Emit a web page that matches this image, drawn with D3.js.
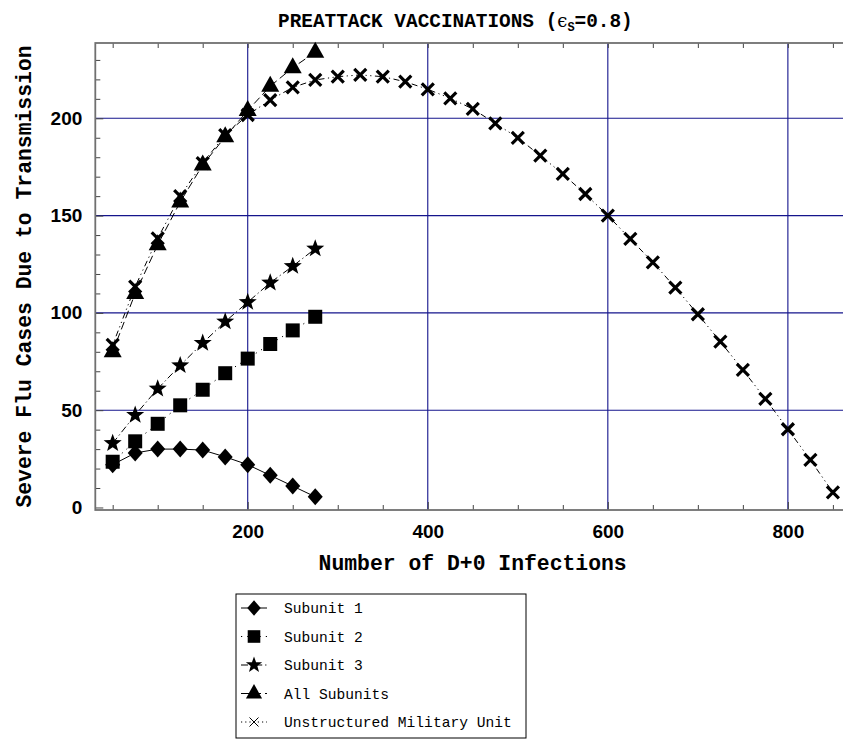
<!DOCTYPE html>
<html>
<head>
<meta charset="utf-8">
<script src="https://cdn.jsdelivr.net/npm/d3@7"></script>
<style>
  body { margin: 0; background: #fff; }
  svg { display: block; }
</style>
</head>
<body>
<svg id="chart" width="843" height="743"></svg>
<script>
// ---- data ----
const subunitInfections = [50, 75, 100, 125, 150, 175, 200, 225, 250, 275];
const subunit1 = [22, 28, 30, 30, 29.5, 26, 22, 16.5, 11, 5.5];
const subunit2 = [23.5, 34, 43, 52.5, 60.5, 69, 76.5, 84, 91, 98];
const subunit3 = [33, 47.5, 61, 73, 84.5, 95.5, 105.5, 115.5, 124, 133];
const allSubunits = [80, 110, 135, 157, 176, 190.5, 204, 216.5, 226, 234];

const unitInfections = [50, 75, 100, 125, 150, 175, 200, 225, 250, 275, 300,
  325, 350, 375, 400, 425, 450, 475, 500, 525, 550, 575, 600, 625, 650, 675,
  700, 725, 750, 775, 800, 825, 850];
const unstructuredUnit = [83.5, 113.5, 138.3, 160, 177, 191.4, 201.7, 209.4,
  215.9, 219.7, 221.4, 222.3, 221.4, 218.8, 214.9, 210.3, 204.8, 197.4, 190,
  180.8, 171.4, 161.1, 150, 138, 126, 113, 99.3, 85.2, 70.7, 55.8, 40.2, 24.4, 7.8];

const seriesNames = ["Subunit 1", "Subunit 2", "Subunit 3", "All Subunits",
  "Unstructured Military Unit"];

const xTickLabels = [200, 400, 600, 800];
const yTickLabels = [0, 50, 100, 150, 200];

// ---- layout ----
const svg = d3.select("#chart");
const frame = { left: 95.3, right: 850, top: 43, bottom: 510 };

const x = d3.scaleLinear().domain([30.7, 869]).range([frame.left, frame.right]);
const y = d3.scaleLinear().domain([-1.3, 238.7]).range([frame.bottom, frame.top]);

svg.append("rect").attr("width", 843).attr("height", 743).attr("fill", "#fff");

// grid lines
const gridColor = "#14148c";
svg.append("g").selectAll("line").data(xTickLabels).join("line")
  .attr("x1", d => x(d)).attr("x2", d => x(d))
  .attr("y1", frame.top).attr("y2", frame.bottom)
  .attr("stroke", gridColor).attr("stroke-width", 1.1);
svg.append("g").selectAll("line").data(yTickLabels.filter(v => v > 0)).join("line")
  .attr("y1", d => y(d)).attr("y2", d => y(d))
  .attr("x1", frame.left).attr("x2", frame.right)
  .attr("stroke", gridColor).attr("stroke-width", 1.1);

// inward ticks on all sides of the frame
const xMinor = d3.range(50, 851, 50).filter(v => v % 200 !== 0);
const yMinor = d3.range(10, 231, 10).filter(v => v % 50 !== 0);

function styleAxis(g) {
  g.select(".domain").remove();
  g.selectAll(".tick line").attr("stroke", "#444").attr("stroke-width", 1);
}

svg.append("g").attr("transform", `translate(0,${frame.bottom})`)
  .call(d3.axisBottom(x).tickValues(xMinor).tickSize(-5).tickFormat(""))
  .call(styleAxis);
svg.append("g").attr("transform", `translate(0,${frame.bottom})`)
  .call(d3.axisBottom(x).tickValues(xTickLabels).tickSize(-8).tickPadding(15)
    .tickFormat(d3.format("d")))
  .call(styleAxis)
  .call(g => g.selectAll("text").attr("fill", "#000")
    .style("font", "bold 19px 'Liberation Sans', Arial, sans-serif"));
svg.append("g").attr("transform", `translate(0,${frame.top})`)
  .call(d3.axisTop(x).tickValues(xMinor.concat(xTickLabels)).tickSize(-5).tickFormat(""))
  .call(styleAxis);

svg.append("g").attr("transform", `translate(${frame.left},0)`)
  .call(d3.axisLeft(y).tickValues(yMinor).tickSize(-5).tickFormat(""))
  .call(styleAxis);
svg.append("g").attr("transform", `translate(${frame.left},0)`)
  .call(d3.axisLeft(y).tickValues(yTickLabels).tickSize(-8).tickPadding(13)
    .tickFormat(d3.format("d")))
  .call(styleAxis)
  .call(g => g.selectAll("text").attr("fill", "#000")
    .style("font", "bold 19px 'Liberation Sans', Arial, sans-serif"));

// frame
svg.append("rect")
  .attr("x", frame.left).attr("y", frame.top)
  .attr("width", frame.right - frame.left).attr("height", frame.bottom - frame.top)
  .attr("fill", "none").attr("stroke", "#707070").attr("stroke-width", 1.8);

// ---- marker shapes ----
function starPath(R, r) {
  const pts = [];
  for (let i = 0; i < 10; i++) {
    const a = -Math.PI / 2 + i * Math.PI / 5;
    const rad = i % 2 === 0 ? R : r;
    pts.push([rad * Math.cos(a), rad * Math.sin(a)]);
  }
  return "M" + pts.map(p => p.join(",")).join("L") + "Z";
}
const markers = {
  diamond: s => `M0,${-8.5 * s}L${7.5 * s},0L0,${8.5 * s}L${-7.5 * s},0Z`,
  square: s => `M${-7 * s},${-7 * s}h${14 * s}v${14 * s}h${-14 * s}Z`,
  star: s => starPath(9.5 * s, 3.9 * s),
  triangle: s => `M0,${-10.5 * s}L${9 * s},${5.5 * s}L${-9 * s},${5.5 * s}Z`,
  cross: s => `M${-6 * s},${-6 * s}L${6 * s},${6 * s}M${6 * s},${-6 * s}L${-6 * s},${6 * s}`
};

const series = [
  { name: seriesNames[0], xs: subunitInfections, ys: subunit1, marker: "diamond", dash: null },
  { name: seriesNames[1], xs: subunitInfections, ys: subunit2, marker: "square", dash: "1.2,5" },
  { name: seriesNames[2], xs: subunitInfections, ys: subunit3, marker: "star", dash: "7,3,1.2,3" },
  { name: seriesNames[3], xs: subunitInfections, ys: allSubunits, marker: "triangle", dash: "8,4" },
  { name: seriesNames[4], xs: unitInfections, ys: unstructuredUnit, marker: "cross", dash: "1.2,3.5,1.2,3.5,6,3.5" }
];

const line = d3.line().x(d => x(d[0])).y(d => y(d[1]));

const plotG = svg.append("g");
series.forEach(s => {
  const pts = s.xs.map((v, i) => [v, s.ys[i]]);
  plotG.append("path").datum(pts)
    .attr("d", line)
    .attr("fill", "none").attr("stroke", "#000").attr("stroke-width", 1)
    .attr("stroke-dasharray", s.dash);
});
series.forEach(s => {
  const pts = s.xs.map((v, i) => [v, s.ys[i]]);
  plotG.append("g").selectAll("path").data(pts).join("path")
    .attr("transform", d => `translate(${x(d[0])},${y(d[1])})`)
    .attr("d", markers[s.marker](1))
    .attr("fill", s.marker === "cross" ? "none" : "#000")
    .attr("stroke", "#000")
    .attr("stroke-width", s.marker === "cross" ? 3.2 : 0);
});

// ---- titles ----
const midX = (frame.left + frame.right) / 2;
const title = svg.append("text")
  .attr("x", 278).attr("y", 27).attr("text-anchor", "start")
  .style("font", "bold 19.4px 'Liberation Mono', 'Courier New', monospace");
title.append("tspan").text("PREATTACK VACCINATIONS (");
title.append("tspan").text("\u03F5").style("font", "18px 'DejaVu Serif', serif");
title.append("tspan").text("S").attr("dy", 4)
  .style("font", "bold 12px 'Liberation Mono', monospace");
title.append("tspan").text("=0.8)").attr("dy", -4);

svg.append("text")
  .attr("x", midX).attr("y", 570).attr("text-anchor", "middle")
  .style("font", "bold 21.4px 'Liberation Mono', 'Courier New', monospace")
  .text("Number of D+0 Infections");

svg.append("text")
  .attr("transform", `translate(31,${(frame.top + frame.bottom) / 2}) rotate(-90)`)
  .attr("text-anchor", "middle")
  .style("font", "bold 21.4px 'Liberation Mono', 'Courier New', monospace")
  .text("Severe Flu Cases Due to Transmission");

// ---- legend ----
const legend = { x: 236, y: 594, w: 290, h: 144, row0: 608, step: 28.5 };
svg.append("rect")
  .attr("x", legend.x).attr("y", legend.y).attr("width", legend.w).attr("height", legend.h)
  .attr("fill", "#fff").attr("stroke", "#000").attr("stroke-width", 1);

const legendRows = svg.append("g").selectAll("g").data(series).join("g")
  .attr("transform", (d, i) => `translate(0,${legend.row0 + i * legend.step})`);
legendRows.append("line")
  .attr("x1", 241).attr("x2", 267).attr("y1", 0).attr("y2", 0)
  .attr("stroke", "#000").attr("stroke-width", 1)
  .attr("stroke-dasharray", d => d.dash ? (d.marker === "cross" ? "1.2,3" : d.dash) : null);
legendRows.append("path")
  .attr("transform", "translate(254,0)")
  .attr("d", d => markers[d.marker](d.marker === "cross" ? 0.75 : 0.9))
  .attr("fill", d => d.marker === "cross" ? "none" : "#000")
  .attr("stroke", "#000")
  .attr("stroke-width", d => d.marker === "cross" ? 1 : 0);
legendRows.append("text")
  .attr("x", 284).attr("y", 0).attr("dy", "0.35em")
  .style("font", "14.6px 'Liberation Mono', 'Courier New', monospace")
  .text(d => d.name);
</script>
</body>
</html>
